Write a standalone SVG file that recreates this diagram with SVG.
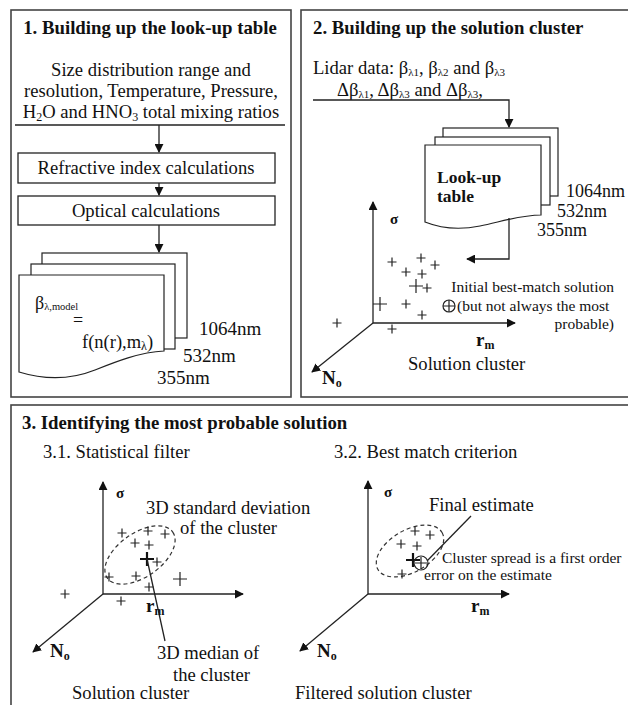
<svg xmlns="http://www.w3.org/2000/svg" width="628" height="705" viewBox="0 0 628 705" font-family="'Liberation Serif', 'DejaVu Serif', 'Times New Roman', serif">
<style>
text{font-family:"Liberation Serif","DejaVu Serif","Times New Roman",serif;fill:#111}
.t{font-size:18.8px;font-weight:bold}
.b{font-size:18.6px}
.s{font-size:15.5px}
.panel{fill:#fff;stroke:#444;stroke-width:1.6}
.ln{fill:none;stroke:#222;stroke-width:1.3}
.box{fill:#fff;stroke:#222;stroke-width:1.3}
.doc{fill:#fff;stroke:#222;stroke-width:1.2}
.p{stroke:#222;stroke-width:1.2;fill:none}
.pb{stroke:#111;stroke-width:2.2;fill:none}
.el{fill:none;stroke:#333;stroke-width:1.2;stroke-dasharray:4 3}
.ax{font-weight:bold}
</style>
<defs>
<marker id="ah" viewBox="0 0 10 10" refX="9" refY="5" markerWidth="9" markerHeight="9" markerUnits="userSpaceOnUse" orient="auto">
<path d="M0,0 L10,5 L0,10 Z" fill="#111"/>
</marker>
<path id="pl" d="M-4.5,0 H4.5 M0,-4.5 V4.5"/>
<path id="plb" d="M-7,0 H7 M0,-7 V7"/>
</defs>
<rect width="628" height="705" fill="#fff"/>

<g id="panel1">
<rect class="panel" x="11" y="10" width="280" height="387"/>
<text class="t" x="150" y="34" text-anchor="middle">1. Building up the look-up table</text>
<text class="b" x="151" y="76" text-anchor="middle">Size distribution range and</text>
<text class="b" x="151" y="97" text-anchor="middle">resolution, Temperature, Pressure,</text>
<text class="b" x="151" y="118" text-anchor="middle">H<tspan font-size="12" dy="3">2</tspan><tspan dy="-3">O and HNO</tspan><tspan font-size="12" dy="3">3</tspan><tspan dy="-3"> total mixing ratios</tspan></text>
</g>

<g id="refractive">
<rect class="box" x="18" y="153" width="257" height="30"/>
<text class="b" x="146" y="174" text-anchor="middle">Refractive index calculations</text>
</g>
<g id="optical">
<rect class="box" x="18" y="196" width="257" height="29"/>
<text class="b" x="146" y="217" text-anchor="middle">Optical calculations</text>
</g>

<g id="model-table">
<rect class="doc" x="42" y="253" width="145" height="85"/>
<rect class="doc" x="31" y="264" width="144" height="85"/>
<path class="doc" d="M19,275 H164 V351 C140,352 115,362 95,370 C70,380 45,380 19,372 Z"/>
<text x="35" y="309" font-size="18">β<tspan font-size="10.5" dy="1">λ,model</tspan></text>
<text x="73" y="326" font-size="18">=</text>
<text x="82" y="348" font-size="18.5">f(n(r),m<tspan font-size="12" dy="2">λ</tspan><tspan dy="-2">)</tspan></text>
<text x="199" y="335" font-size="19">1064nm</text>
<text x="183" y="362" font-size="19">532nm</text>
<text x="157" y="384" font-size="19">355nm</text>
</g>

<g id="panel2">
<rect class="panel" x="301" y="10" width="335" height="387"/>
<text class="t" x="313" y="34">2. Building up the solution cluster</text>
<text class="b" x="313" y="74">Lidar data: β<tspan font-size="11" dy="2">λ1</tspan><tspan dy="-2">, β</tspan><tspan font-size="11" dy="2">λ2</tspan><tspan dy="-2"> and β</tspan><tspan font-size="11" dy="2">λ3</tspan></text>
<text class="b" x="337" y="95.5">Δβ<tspan font-size="11" dy="2">λ1</tspan><tspan dy="-2">, Δβ</tspan><tspan font-size="11" dy="2">λ3</tspan><tspan dy="-2"> and Δβ</tspan><tspan font-size="11" dy="2">λ3</tspan><tspan dy="-2">,</tspan></text>
</g>

<g id="lookup-table">
<rect class="doc" x="443" y="128" width="115" height="68"/>
<rect class="doc" x="435" y="137" width="115" height="68"/>
<path class="doc" d="M425,145 H541 V215 C520,215 500,222 480,226 C460,230 440,228 425,222 Z"/>
<text x="437" y="183" font-size="17.5" font-weight="bold">Look-up</text>
<text x="437" y="202" font-size="17.5" font-weight="bold">table</text>
<text x="566" y="197" font-size="18">1064nm</text>
<text x="557" y="217" font-size="18">532nm</text>
<text x="537" y="236" font-size="18">355nm</text>
</g>

<g id="cluster2">
<g class="p">
<use href="#pl" x="392" y="262"/>
<use href="#pl" x="421" y="258"/>
<use href="#pl" x="435" y="265"/>
<use href="#pl" x="406" y="272"/>
<use href="#pl" x="422" y="274"/>
<use href="#plb" x="416" y="286"/>
<use href="#pl" x="427" y="288"/>
<use href="#plb" x="380" y="304"/>
<use href="#pl" x="406" y="304"/>
<use href="#pl" x="422" y="315"/>
<use href="#pl" x="337" y="323"/>
<use href="#pl" x="392" y="329"/>
</g>
<circle cx="449" cy="306" r="6" fill="none" stroke="#222" stroke-width="1.2"/>
<path class="p" d="M443,306 H455 M449,300 V312"/>
<text class="s" x="614" y="292" text-anchor="end">Initial best-match solution</text>
<text class="s" x="457" y="311">(but not always the most</text>
<text class="s" x="614" y="329" text-anchor="end">probable)</text>
<text x="390" y="224" font-size="15" class="ax">σ</text>
<text x="476" y="346" font-size="19" class="ax">r<tspan font-size="12" dy="3">m</tspan></text>
<text x="322" y="384" font-size="19" class="ax">N<tspan font-size="12" dy="3">o</tspan></text>
<text class="b" x="408" y="370">Solution cluster</text>
</g>

<g id="panel3">
<rect class="panel" x="11" y="405" width="625" height="310"/>
<text class="t" x="22" y="429">3. Identifying the most probable solution</text>
<text class="b" x="43" y="458">3.1. Statistical filter</text>
<text class="b" x="334" y="458">3.2. Best match criterion</text>
</g>

<g id="filter31">
<ellipse class="el" cx="140" cy="555" rx="40" ry="22" transform="rotate(-35 140 555)"/>
<g class="p">
<use href="#pl" x="122" y="533"/>
<use href="#pl" x="148" y="531"/>
<use href="#pl" x="165" y="534"/>
<use href="#pl" x="135" y="543"/>
<use href="#pl" x="149" y="545"/>
<use href="#pl" x="157" y="562"/>
<use href="#pl" x="109" y="577"/>
<use href="#pl" x="136" y="576"/>
<use href="#plb" x="180" y="579"/>
<use href="#pl" x="149" y="587"/>
<use href="#pl" x="65" y="594"/>
<use href="#pl" x="121" y="601"/>
</g>
<use class="pb" href="#plb" x="147" y="559"/>
<path class="ln" d="M147,559 L165,641" stroke-width="1"/>
<text class="b" x="146" y="514">3D standard deviation</text>
<text class="b" x="180" y="534">of the cluster</text>
<text class="b" x="157" y="659">3D median of</text>
<text class="b" x="173" y="681">the cluster</text>
<text class="b" x="72" y="699">Solution cluster</text>
<text x="116" y="498" font-size="15" class="ax">σ</text>
<text x="146" y="612" font-size="19" class="ax">r<tspan font-size="12" dy="3">m</tspan></text>
<text x="50" y="657" font-size="19" class="ax">N<tspan font-size="12" dy="3">o</tspan></text>
</g>

<g id="match32">
<ellipse class="el" cx="410" cy="551" rx="37" ry="21" transform="rotate(-30 410 551)"/>
<g class="p">
<use href="#pl" x="415" y="531"/>
<use href="#pl" x="430" y="535"/>
<use href="#pl" x="401" y="544"/>
<use href="#pl" x="417" y="546"/>
<use href="#pl" x="402" y="574"/>
</g>
<use class="pb" href="#plb" x="413" y="560"/>
<circle cx="421" cy="563" r="7" fill="none" stroke="#222" stroke-width="1.2"/>
<path class="p" d="M415,563 H427 M421,557 V569"/>
<path class="ln" d="M471,516 L427,561" stroke-width="1"/>
<text class="b" x="429" y="511">Final estimate</text>
<text class="s" x="442" y="563">Cluster spread is a first order</text>
<text class="s" x="424" y="580">error on the estimate</text>
<text x="384" y="497" font-size="15" class="ax">σ</text>
<text x="471" y="612" font-size="19" class="ax">r<tspan font-size="12" dy="3">m</tspan></text>
<text x="317" y="657" font-size="19" class="ax">N<tspan font-size="12" dy="3">o</tspan></text>
<text class="b" x="295" y="699">Filtered solution cluster</text>
</g>

<g id="connectors">
<path class="ln" d="M15,125 H285"/>
<path class="ln" d="M159,125 V152" marker-end="url(#ah)"/>
<path class="ln" d="M159,183 V195" marker-end="url(#ah)"/>
<path class="ln" d="M159,225 V252" marker-end="url(#ah)"/>
<path class="ln" d="M313,100 H509 V127" marker-end="url(#ah)"/>
<path class="ln" d="M509,218 V259 H467" marker-end="url(#ah)"/>
<path class="ln" d="M373,323 V202" marker-end="url(#ah)"/>
<path class="ln" d="M373,323 H515" marker-end="url(#ah)"/>
<path class="ln" d="M373,323 L312,372" marker-end="url(#ah)"/>
<path class="ln" d="M103,594 V482" marker-end="url(#ah)"/>
<path class="ln" d="M103,594 H243" marker-end="url(#ah)"/>
<path class="ln" d="M103,594 L33,652" marker-end="url(#ah)"/>
<path class="ln" d="M368,594 V481" marker-end="url(#ah)"/>
<path class="ln" d="M368,594 H509" marker-end="url(#ah)"/>
<path class="ln" d="M368,594 L300,651" marker-end="url(#ah)"/>
</g>
</svg>
